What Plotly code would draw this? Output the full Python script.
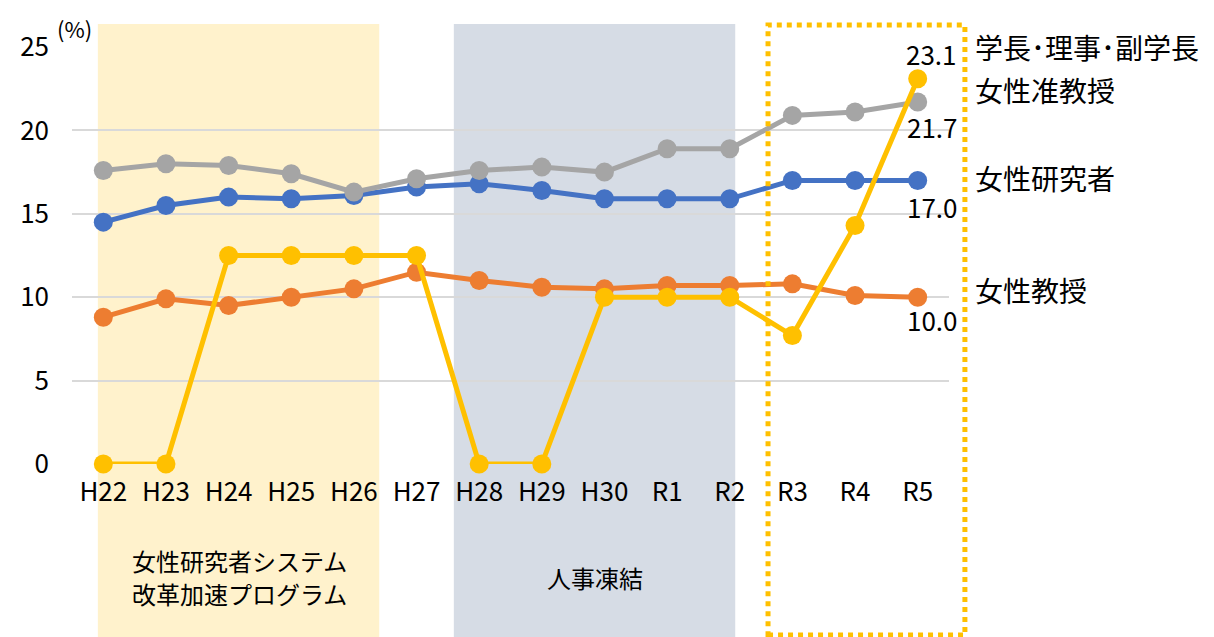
import plotly.graph_objects as go

years = ["H22", "H23", "H24", "H25", "H26", "H27", "H28", "H29", "H30", "R1", "R2", "R3", "R4", "R5"]
researchers = [14.5, 15.5, 16.0, 15.9, 16.1, 16.6, 16.8, 16.4, 15.9, 15.9, 15.9, 17.0, 17.0, 17.0]
professors = [8.8, 9.9, 9.5, 10.0, 10.5, 11.5, 11.0, 10.6, 10.5, 10.7, 10.7, 10.8, 10.1, 10.0]
assoc_professors = [17.6, 18.0, 17.9, 17.4, 16.3, 17.1, 17.6, 17.8, 17.5, 18.9, 18.9, 20.9, 21.1, 21.7]
executives = [0, 0, 12.5, 12.5, 12.5, 12.5, 0, 0, 10.0, 10.0, 10.0, 7.7, 14.3, 23.1]

series_names = ["女性研究者", "女性教授", "女性准教授", "学長･理事･副学長"]
series_values = [researchers, professors, assoc_professors, executives]
series_colors = ["#4472C4", "#ED7D31", "#A5A5A5", "#FFC000"]

FONT = "Noto Sans CJK JP"

# screen geometry (pixels); page body has an 8px offset
OFF = 8
W, H = 1214, 637
L, R, T, B = 67, 949, 47, 464
PW, PH = R - L, B - T

def px(x):
    return (x - L) / PW

def py(y):
    return (B - y) / PH

fig = go.Figure()
for name, vals, col in zip(series_names, series_values, series_colors):
    fig.add_trace(go.Scatter(
        x=years, y=vals, name=name, mode="lines+markers",
        line=dict(color=col, width=5),
        marker=dict(color=col, size=19),
        cliponaxis=False, showlegend=False,
    ))

shapes = [
    dict(type="rect", xref="paper", yref="paper", x0=px(93), x1=px(376), y0=py(645), y1=py(24),
         fillcolor="#FFF2CC", line=dict(width=0), layer="below"),
    dict(type="rect", xref="paper", yref="paper", x0=px(451), x1=px(734), y0=py(645), y1=py(24),
         fillcolor="#D6DCE5", line=dict(width=0), layer="below"),
    dict(type="rect", xref="paper", yref="paper", x0=px(767), x1=px(965), y0=py(635), y1=py(25),
         fillcolor="rgba(0,0,0,0)", line=dict(color="#FFC000", width=5, dash="dot"), layer="above"),
]

annotations = []
def txt(text, x, y, size, xanchor="center"):
    annotations.append(dict(text=text, xref="paper", yref="paper", x=px(x), y=py(y),
                            xanchor=xanchor, yanchor="middle", showarrow=False,
                            font=dict(family=FONT, size=size, color="#000000")))

txt("(%)", 70, 28, 22)
txt("女性研究者システム", 235, 560, 24)
txt("改革加速プログラム", 235, 593, 24)
txt("人事凍結", 593, 577, 24)
txt("学長･理事･副学長", 973, 47, 28, "left")
txt("女性准教授", 973, 90, 28, "left")
txt("女性研究者", 973, 178, 28, "left")
txt("女性教授", 973, 290, 28, "left")
txt(f"{executives[-1]:.1f}", 931, 53, 26)
txt(f"{assoc_professors[-1]:.1f}", 932, 126, 26)
txt(f"{researchers[-1]:.1f}", 932, 207, 26)
txt(f"{professors[-1]:.1f}", 932, 319, 26)

fig.update_layout(
    width=W, height=H,
    margin=dict(l=L - OFF, r=W - (R - OFF), t=T - OFF, b=H - (B - OFF), pad=0),
    paper_bgcolor="white", plot_bgcolor="rgba(0,0,0,0)",
    font=dict(family=FONT, size=26, color="#000000"),
    shapes=shapes, annotations=annotations,
    xaxis=dict(type="category", range=[-0.5, 13.5], showgrid=False, showline=False,
               zeroline=False, ticks="", tickfont=dict(size=26), ticklabelstandoff=10),
    yaxis=dict(range=[0, 25], tickvals=[0, 5, 10, 15, 20, 25], showgrid=True,
               gridcolor="#D9D9D9", gridwidth=1.5, zeroline=False, showline=False,
               ticks="", tickfont=dict(size=26), ticklabelstandoff=22),
)

fig.write_html("out.html")
